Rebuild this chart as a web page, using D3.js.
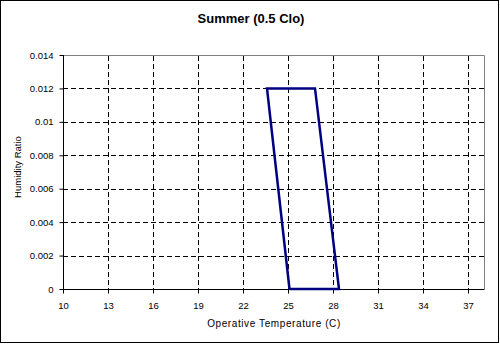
<!DOCTYPE html>
<html>
<head>
<meta charset="utf-8">
<script src="https://cdn.jsdelivr.net/npm/d3@7"></script>
<style>
    body { margin: 0; background: #fff; }
    svg { display: block; font-family: "Liberation Sans", Arial, sans-serif; }
    .tick-label { font-size: 9.5px; fill: #000; }
    .axis-title { font-size: 10px; fill: #000; }
</style>
</head>
<body>
<div id="chart"></div>
<script>
const chartTitle = 'Summer (0.5 Clo)'
const xLabel = 'Operative Temperature (C)'
const yLabel = 'Humidity Ratio'

const xTicks = [10, 13, 16, 19, 22, 25, 28, 31, 34, 37]
const yTicks = [0, 0.002, 0.004, 0.006, 0.008, 0.01, 0.012, 0.014]
const yTickLabels = ['0', '0.002', '0.004', '0.006', '0.008', '0.01', '0.012', '0.014']

// comfort zone outline, closed polygon
const zoneTemp = [25.1, 23.6, 26.8, 28.4, 25.1]
const zoneHumidity = [0, 0.012, 0.012, 0, 0]

function drawChart() {
    const width = 500
    const height = 344
    const plot = { left: 63, right: 484.5, top: 55, bottom: 289 }

    const svg = d3.select('#chart')
        .append('svg')
        .attr('width', width)
        .attr('height', height)

    svg.append('rect')
        .attr('x', 0.5)
        .attr('y', 0.5)
        .attr('width', 498)
        .attr('height', 342)
        .attr('fill', '#fff')
        .attr('stroke', '#000')

    const xScale = d3.scaleLinear()
        .domain([10, 38.1])
        .range([plot.left, plot.right])

    const yScale = d3.scaleLinear()
        .domain([0, 0.014])
        .range([plot.bottom, plot.top])

    // plot area frame (top and right in grey)
    svg.append('path')
        .attr('d', `M${plot.left},${plot.top + 0.5}H${plot.right}V${plot.bottom}`)
        .attr('fill', 'none')
        .attr('stroke', '#808080')

    // gridlines
    svg.append('g')
        .selectAll('line')
        .data(xTicks.slice(1))
        .enter().append('line')
        .attr('x1', d => Math.round(xScale(d)) + 0.5)
        .attr('x2', d => Math.round(xScale(d)) + 0.5)
        .attr('y1', plot.top + 1)
        .attr('y2', plot.bottom)
        .attr('stroke', '#000')
        .attr('stroke-dasharray', '5,3')

    svg.append('g')
        .selectAll('line')
        .data(yTicks.slice(1, -1))
        .enter().append('line')
        .attr('x1', plot.left)
        .attr('x2', plot.right)
        .attr('y1', d => Math.round(yScale(d)) + 0.5)
        .attr('y2', d => Math.round(yScale(d)) + 0.5)
        .attr('stroke', '#000')
        .attr('stroke-dasharray', '5,3')

    // axes
    const xAxis = d3.axisBottom(xScale)
        .tickValues(xTicks)
        .tickSize(4)
        .tickFormat(d3.format('d'))

    svg.append('g')
        .attr('transform', `translate(0, ${plot.bottom + 0.5})`)
        .call(xAxis)
        .call(g => g.select('.domain').attr('d', `M${plot.left},0H${plot.right}`).attr('stroke', '#000'))
        .call(g => g.selectAll('.tick line').attr('stroke', '#000'))
        .call(g => g.selectAll('.tick text')
            .attr('class', 'tick-label')
            .attr('font-size', null)
            .attr('font-family', null)
            .attr('y', 13))

    const yAxis = d3.axisLeft(yScale)
        .tickValues(yTicks)
        .tickSize(4)
        .tickFormat((d, i) => yTickLabels[i])

    svg.append('g')
        .attr('transform', `translate(${plot.left + 0.5}, 0)`)
        .call(yAxis)
        .call(g => g.select('.domain').attr('d', `M0,${plot.top}V${plot.bottom}`).attr('stroke', '#000'))
        .call(g => g.selectAll('.tick line').attr('stroke', '#000'))
        .call(g => g.selectAll('.tick text')
            .attr('class', 'tick-label')
            .attr('font-size', null)
            .attr('font-family', null)
            .attr('x', -10))

    // comfort zone
    const zonePoints = zoneTemp.map((t, i) => [t, zoneHumidity[i]])
    const line = d3.line()
        .x(d => xScale(d[0]))
        .y(d => yScale(d[1]))

    svg.append('path')
        .attr('d', line(zonePoints))
        .attr('fill', 'none')
        .attr('stroke', '#000080')
        .attr('stroke-width', 2.5)
        .attr('stroke-linejoin', 'miter')

    // titles
    svg.append('text')
        .attr('x', 251)
        .attr('y', 23)
        .attr('text-anchor', 'middle')
        .style('font-size', '13px')
        .style('font-weight', 'bold')
        .text(chartTitle)

    svg.append('text')
        .attr('class', 'axis-title')
        .attr('x', 274)
        .attr('y', 327)
        .attr('text-anchor', 'middle')
        .style('letter-spacing', '0.6px')
        .text(xLabel)

    svg.append('text')
        .attr('class', 'axis-title')
        .attr('transform', 'translate(21, 167) rotate(-90)')
        .attr('text-anchor', 'middle')
        .style('font-size', '9.5px')
        .text(yLabel)
}

drawChart()
</script>
</body>
</html>
